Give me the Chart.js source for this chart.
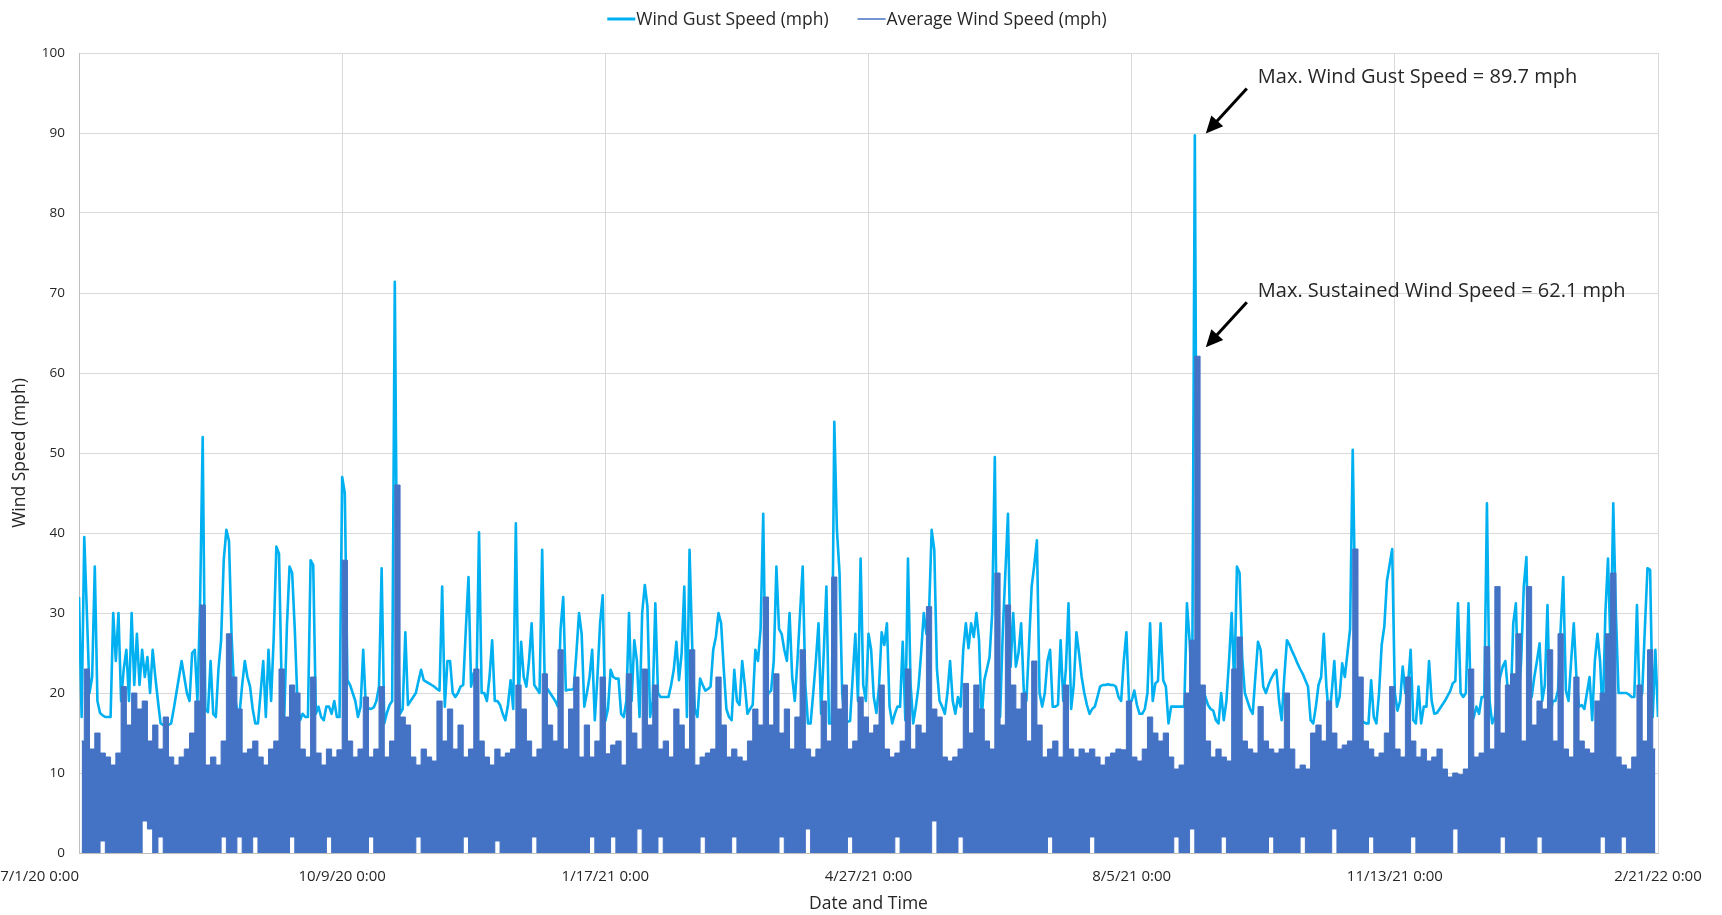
<!DOCTYPE html>
<html>
<head>
<title>Wind Speed</title>
<script src="https://cdn.jsdelivr.net/npm/chart.js@4.4.1/dist/chart.umd.min.js"></script>
<style>
  body { margin: 0; background: #fff; }
  #windChart { display: block; }
</style>
</head>
<body>
<canvas id="windChart" width="1722" height="915"></canvas>
<script>
// x axis is "days since 7/1/20 0:00", labelled every 100 days
var xTickLabels = ['7/1/20 0:00', '10/9/20 0:00', '1/17/21 0:00', '4/27/21 0:00', '8/5/21 0:00', '11/13/21 0:00', '2/21/22 0:00'];

// wind gust speed, one reading per day (day 0 .. 600)
var gustSpeed = [
  32,17,39.5,30,20,22,35.8,19,17.5,17.2, 17,17,17,30,24,30,19,23,25.4,19, 30,21,27.4,21,25.4,22,24.5,20,25.4,22,
  19,16.2,16,16,16,16.2,18,20,22,24, 22,20,19,25,25.4,19,31,52,18,17.6, 24,17.4,17,23,26.6,36.6,40.4,39,27,20,
  18,17.4,21,24,22,20.8,18,16.2,16.2,20, 24,17,25.4,19,27,38.3,37.4,21,17,28.3, 35.8,35,27.9,19,16.6,17.4,17,17,36.6,36,
  17.4,18.3,17,16.6,18.3,18.3,17.4,19,17,17,
  // 10/9/20
  47,45,21.6,21,20,19,17,18.3,25.4,18.3, 18.1,18,18.2,19,20.8,35.6,16.2,17.5,18.5,19, 71.4,27.4,17.4,18,27.6,18.5,19,19.5,20,21.5,
  22.9,21.6,21.4,21.2,21,20.8,20.5,20.3,33.3,18.3, 24,24,20,19.5,20,20.8,21,28,34.5,20.8, 22.5,20,40.1,20,20,19,22,26.6,19,19,
  18.5,17.4,16.6,18.5,21.6,18,41.2,19,26.4,22, 20.8,24,28.7,21,20.5,20,37.9,20.8,20.5,20, 19.5,19,18.3,28,32,20.3,20.4,20.4,20.5,25,
  30,27.4,18.3,20,22,25.4,16.6,22,28.7,32.2,
  // 1/17/21
  16.5,18,22.9,22,21.8,21.8,17.4,17,19,30, 19,26.6,24,17,30,33.5,30.8,17,19,31.2, 20,19.5,19.5,19.5,19.5,21,22.9,26.4,21.6,25,
  33.3,17,37.9,26,18,17,21.8,21,20.3,20.5, 20.8,25.4,27,30,28.7,23,18,17,16.6,22.9, 19,18.5,24,21,17.4,18,18.5,25.4,24,28,
  42.4,19,20,20.3,24,35.8,28,27.4,25.4,24, 30,22,19,24,30,35.8,21,16.2,16.2,20, 24,28.7,17.4,25,33.3,16.2,16.2,53.9,40.4,35,
  20,16.4,16.4,16.5,22,27.4,19,36.8,21,19,
  // 4/27/21
  27.4,25.4,19.5,17.5,20.8,27.6,26,28.7,18.3,16.2, 17.4,18.3,18.3,26.4,16.6,36.8,21,16.2,18.3,20.8, 25,30,27.4,30,40.4,37.9,23,19,18.3,17.4,
  20,24,19,17.4,19.5,18.3,25.4,28.7,25.6,28.7, 27,30,26.6,16.6,21.6,23,24.5,30,49.5,19, 17,27.4,35,42.4,23.3,30,23.3,25,28.7,20.3,
  19,26,33.3,36,39.1,20,18.3,20,24,25.4, 18.3,18.3,18.5,26.6,19,23,31.2,18,21,27.6, 25,22,20,18.5,17.4,18,18.3,19.5,20.8,21,
  21,21.1,21,21,20.8,19.5,19,24,27.6,19,
  // 8/5/21
  19,20.3,18.5,17.4,17.4,18,20,28.7,19,21.2, 21.5,28.7,21.6,20.8,16.2,18.3,18.3,18.3,18.3,18.3, 18.3,31.2,26.6,20,89.7,19,19,20.8,19.5,18.5,
  18,17.8,16.6,16.2,20,16.6,19,24,30,20.8, 35.8,35,24.5,20,19,18,17.4,22,26.4,25.4, 20.8,20,21,21.8,22.4,22.9,19,16.6,22,26.6,
  26,25.2,24.5,23.7,23,22.4,21.6,20.8,16.6,16.2, 18.3,21,22,27.4,20.8,17,20,24,18.3,19.5, 23.7,22,25,28,50.4,30,16.6,16.6,16.4,16.2,
  16.2,21.6,17,16.2,20,26,28.3,34,36,38,
  // 11/13/21
  20,17.8,19,23.3,20,21,25.4,16.6,16.2,20.8, 16.2,18.3,18.3,24,19,17.4,17.5,18,18.5,19, 19.6,20.2,21.2,21.5,31.2,20,19.5,20,31.2,16.2,
  17,18.3,17.4,19.5,19.5,43.7,19,16.2,17,20, 22,23.3,24,20,18.3,28.7,31.2,19,24,33.3, 37,20,19.5,22,24,26.2,19,21,31,17,
  19,19,20.3,28,34.5,20.3,19,24,28.7,22, 18.3,18.5,18,20,22,16.6,24,27.4,24,16.6, 30,36.8,25,43.7,30,20,20,20,20,19.8,
  19.5,19.5,31,19,20,28,35.6,35.4,17,25.4,
  17
];

// average wind speed, highest and lowest reading in each 2-day block (300 blocks)
var avgHigh = [
  14,23,13,15,12.5,12,11,12.5,20.8,16, 20,18,19,14,16,13,17,12,11,12, 13,15,19,31,11,12,11,14,27.4,22,
  18,12.5,13,14,12,11,13,14,23,17, 21,20,13,12,22,12.5,11,13,12,12.9,
  36.6,14,12,13,19.5,12,13,20.8,12,14, 46,17,16,12,11,13,12,11.5,19,14, 18,13,16,12,13,23,14,12,11,13,
  12,12.5,13,21,18,14,12,13,22.4,16, 14,25.4,13,18,22,12,16,12,14,22,
  12.4,13.5,14,11,22.4,15,13,23,16,21, 13,14,12,18,16,13,25.4,11,12,12.5, 13,22,16,12,13,12,11.5,14,18,16,
  32,16,22.4,15,18,13,17,25.4,13,12, 13,19,14,34.5,18,21,13,14,19.5,17,
  15,16,21,13,12,12.5,14,23,13,16, 15,30.8,18,17,12,11.5,12,13,21.2,15, 21,18,14,13,35,16,31,21,18,20,
  14,24,16,12,13,14,12,21,13,12, 13,12.5,13,12,11,12,12.5,13,12.9,19,
  12,11.5,13,17,15,14,15,12,10.5,11, 20,26.6,62.1,21,14,12,13,12,11.5,23, 27,14,13,12.5,18.3,14,13,12.5,13,20,
  13,10.5,11,10.5,15,16,14,19,15,13, 13.5,14,38,22,14,13,12,12.5,15,20.8,
  13,12,22,14,12,13,11.5,12,13,10.5, 9.5,10,9.8,10.5,23,12,12.5,25.8,13,33.3, 15,21,22.4,27.4,14,33.3,16,19,18,25.4,
  14,27.4,13,12,22,14,13,12.5,19,20, 27.4,35,12,11,10.5,12,21,14,25.4,13
];
var avgLow = [
  0,0,0,0,1.5,0,0,0,0,0, 0,0,4,3,0,2,0,0,0,0, 0,0,0,0,0,0,0,2,0,0, 2,0,0,2,0,0,0,0,0,0, 2,0,0,0,0,0,0,2,0,0,
  0,0,0,0,0,2,0,0,0,0, 0,0,0,0,2,0,0,0,0,0, 0,0,0,2,0,0,0,0,0,1.5, 0,0,0,0,0,0,2,0,0,0, 0,0,0,0,0,0,0,2,0,0,
  0,2,0,0,0,0,3,0,0,0, 2,0,0,0,0,0,0,0,2,0, 0,0,0,0,2,0,0,0,0,0, 0,0,0,2,0,0,0,0,3,0, 0,0,0,0,0,0,2,0,0,0,
  0,0,0,0,0,2,0,0,0,0, 0,0,4,0,0,0,0,2,0,0, 0,0,0,0,0,0,0,0,0,0, 0,0,0,0,2,0,0,0,0,0, 0,0,2,0,0,0,0,0,0,0,
  0,0,0,0,0,0,0,0,2,0, 0,3,0,0,0,0,0,2,0,0, 0,0,0,0,0,0,2,0,0,0, 0,0,2,0,0,0,0,0,3,0, 0,0,0,0,0,2,0,0,0,0,
  0,0,0,2,0,0,0,0,0,0, 0,3,0,0,0,0,0,0,0,0, 2,0,0,0,0,0,0,2,0,0, 0,0,0,0,0,0,0,0,0,2, 0,0,0,2,0,0,0,0,0,0
];

// call-outs for the two maxima
var noteDays = [424, 424];
var noteValues = [89.7, 62.1];
var noteTexts = ['Max. Wind Gust Speed = 89.7 mph', 'Max. Sustained Wind Speed = 62.1 mph'];
var noteLift = [2, 9];

var gustPoints = gustSpeed.map(function (v, i) { return {x: i, y: v}; });
var avgTopPoints = avgHigh.map(function (v, i) { return {x: i * 2 + 1, y: v}; });
var avgBottomPoints = avgLow.map(function (v, i) { return {x: i * 2 + 1, y: v}; });

var textColor = '#262626';
var fontName = '"Open Sans"';

var legendPlugin = {
  id: 'topLegend',
  afterDraw: function (chart) {
    var ctx = chart.ctx;
    ctx.save();
    ctx.font = '17.5px ' + fontName;
    ctx.textBaseline = 'middle';
    var lineLen = 28, gap = 1, spacing = 29;
    var items = chart.data.datasets.filter(function (ds) { return ds.legendLine; }).map(function (ds) {
      return {text: ds.label, color: ds.borderColor, width: ds.legendLine};
    });
    var total = 0;
    items.forEach(function (it) {
      it.w = lineLen + gap + ctx.measureText(it.text).width;
      total += it.w;
    });
    total += spacing * (items.length - 1);
    var x = 857 - total / 2;
    var y = 19;
    items.forEach(function (it) {
      ctx.strokeStyle = it.color;
      ctx.lineWidth = it.width;
      ctx.beginPath();
      ctx.moveTo(x, y);
      ctx.lineTo(x + lineLen, y);
      ctx.stroke();
      ctx.fillStyle = textColor;
      ctx.fillText(it.text, x + lineLen + gap, y + 1);
      x += it.w + spacing;
    });
    ctx.restore();
  }
};

// x tick labels: the first one sits left of its gridline, the rest are centred
var xLabelPlugin = {
  id: 'xLabels',
  afterDraw: function (chart) {
    var ctx = chart.ctx;
    var xs = chart.scales.x;
    ctx.save();
    ctx.font = '15px ' + fontName;
    ctx.fillStyle = textColor;
    ctx.textBaseline = 'middle';
    xTickLabels.forEach(function (t, i) {
      ctx.textAlign = i === 0 ? 'right' : 'center';
      ctx.fillText(t, xs.getPixelForValue(i * 100), chart.chartArea.bottom + 24);
    });
    ctx.restore();
  }
};

var notePlugin = {
  id: 'maxNotes',
  afterDatasetsDraw: function (chart) {
    var ctx = chart.ctx;
    var xs = chart.scales.x, ys = chart.scales.y;
    ctx.save();
    for (var k = 0; k < noteTexts.length; k++) {
      var tipX = xs.getPixelForValue(noteDays[k]) + 11;
      var tipY = ys.getPixelForValue(noteValues[k]) - noteLift[k];
      var tailX = tipX + 41, tailY = tipY - 45;
      var dx = tipX - tailX, dy = tipY - tailY;
      var len = Math.sqrt(dx * dx + dy * dy);
      var ux = dx / len, uy = dy / len;
      var headLen = 17, headW = 8;
      var baseX = tipX - ux * headLen, baseY = tipY - uy * headLen;
      ctx.strokeStyle = '#000';
      ctx.fillStyle = '#000';
      ctx.lineWidth = 3;
      ctx.beginPath();
      ctx.moveTo(tailX, tailY);
      ctx.lineTo(baseX + ux * 2, baseY + uy * 2);
      ctx.stroke();
      ctx.beginPath();
      ctx.moveTo(tipX, tipY);
      ctx.lineTo(baseX - uy * headW, baseY + ux * headW);
      ctx.lineTo(baseX + uy * headW, baseY - ux * headW);
      ctx.closePath();
      ctx.fill();
      ctx.font = '20px ' + fontName;
      ctx.textBaseline = 'middle';
      ctx.fillStyle = textColor;
      ctx.fillText(noteTexts[k], tailX + 11, tailY - 11);
    }
    ctx.restore();
  }
};

var ctx = document.getElementById('windChart').getContext('2d');

var windChart = new Chart(ctx, {
  type: 'line',
  data: {
    datasets: [{
      label: 'Wind Gust Speed (mph)',
      data: gustPoints,
      borderColor: '#00B0F0',
      borderWidth: 2.6,
      legendLine: 3,
      borderJoinStyle: 'round',
      pointRadius: 0,
      tension: 0,
      order: 2
    }, {
      label: 'Average Wind Speed (mph)',
      data: avgTopPoints,
      borderColor: '#4472C4',
      backgroundColor: '#4472C4',
      fill: '+1',
      stepped: 'middle',
      borderWidth: 1,
      legendLine: 1.5,
      pointRadius: 0,
      order: 0
    }, {
      label: 'Average low',
      data: avgBottomPoints,
      borderColor: '#4472C4',
      borderWidth: 1,
      stepped: 'middle',
      pointRadius: 0,
      fill: false,
      order: 1
    }]
  },
  options: {
    responsive: false,
    animation: false,
    devicePixelRatio: 1,
    parsing: false,
    normalized: true,
    layout: { padding: { top: 53, right: 64, bottom: 0, left: 0 } },
    plugins: {
      legend: { display: false },
      tooltip: { enabled: false }
    },
    scales: {
      x: {
        type: 'linear',
        min: 0,
        max: 600,
        afterFit: function (scale) { scale.height = 62; },
        afterBuildTicks: function (scale) {
          scale.ticks = xTickLabels.map(function (t, i) { return {value: i * 100}; });
        },
        ticks: { display: false },
        grid: { color: '#d9d9d9', drawTicks: false },
        border: { color: '#bfbfbf' },
        title: {
          display: true,
          text: 'Date and Time',
          color: textColor,
          font: { family: 'Open Sans', size: 17.5 },
          padding: { top: 0, bottom: 0 }
        }
      },
      y: {
        min: 0,
        max: 100,
        afterFit: function (scale) { scale.width = 79; },
        ticks: {
          stepSize: 10,
          padding: 14,
          color: textColor,
          font: { family: 'Open Sans', size: 13.5 }
        },
        grid: { color: '#d9d9d9', drawTicks: false },
        border: { color: '#bfbfbf' },
        title: {
          display: true,
          text: 'Wind Speed (mph)',
          color: textColor,
          font: { family: 'Open Sans', size: 17.5 },
          padding: { top: 10, bottom: 0 }
        }
      }
    }
  },
  plugins: [legendPlugin, xLabelPlugin, notePlugin]
});
</script>
</body>
</html>
